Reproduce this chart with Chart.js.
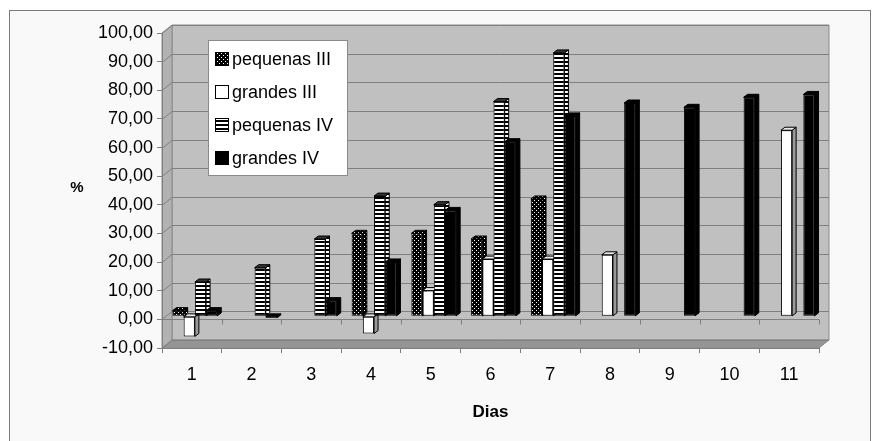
<!DOCTYPE html>
<html>
<head>
<meta charset="utf-8">
<script src="https://cdn.jsdelivr.net/npm/chart.js@4.4.1/dist/chart.umd.min.js"></script>
<style>
  html, body { margin: 0; padding: 0; background: #fff; }
  #frame { position: absolute; left: 9px; top: 10px; width: 860px; height: 440px;
           border: 1px solid #7a7a7a; background: #f9f9f9; }
  #wrap { position: absolute; left: 0; top: 0; width: 877px; height: 441px; }
</style>
</head>
<body>
<div id="frame"></div>
<div id="wrap"><canvas id="chart" width="877" height="441"></canvas></div>
<script>
// valores (%)
var dias = ['1', '2', '3', '4', '5', '6', '7', '8', '9', '10', '11'];
var pequenasIII = [2, null, null, 29, 29, 27, 41, null, null, null, null];
var grandesIII  = [-7, null, null, -6, 9, 20, 20, 21.5, null, null, 65];
var pequenasIV  = [12, 17, 27, 42, 39, 75, 92, null, null, null, null];
var grandesIV   = [2, -0.5, 5.5, 19, 37, 61, 70, 74.5, 73, 76.5, 77.5];
var yMin = -10, yMax = 100, yStep = 10;

var canvas = document.getElementById('chart');
var ctx = canvas.getContext('2d');
var FONT = 'Liberation Sans, Arial, sans-serif';

// 3d offsets
var DX = 10, DY = -8;     // wall depth
var BX = 4, BY = -3;      // bar depth

function makePattern(kind) {
  var c = document.createElement('canvas');
  c.width = 4; c.height = 4;
  var g = c.getContext('2d');
  if (kind === 'dots') {
    g.fillStyle = '#000'; g.fillRect(0, 0, 4, 4);
    g.fillStyle = '#fff'; g.fillRect(1, 1, 1, 1); g.fillRect(3, 3, 1, 1);
  } else {
    g.fillStyle = '#fff'; g.fillRect(0, 0, 4, 4);
    g.fillStyle = '#000'; g.fillRect(0, 0, 4, 2);
  }
  return ctx.createPattern(c, 'repeat');
}
var dots = makePattern('dots');
var stripes = makePattern('stripes');

var fills = [dots, '#ffffff', stripes, '#000000'];
var sides = [dots, '#9a9a9a', stripes, '#000000'];
var tops  = [dots, '#e8e8e8', '#333333', '#000000'];

function poly(c, pts, fill, stroke) {
  c.beginPath();
  c.moveTo(pts[0][0], pts[0][1]);
  for (var i = 1; i < pts.length; i++) c.lineTo(pts[i][0], pts[i][1]);
  c.closePath();
  if (fill) { c.fillStyle = fill; c.fill(); }
  if (stroke) { c.strokeStyle = stroke; c.lineWidth = 1; c.stroke(); }
}

var wallPlugin = {
  id: 'wall',
  beforeDraw: function (chart) {
    var c = chart.ctx, a = chart.chartArea, ys = chart.scales.y;
    var L = a.left, R = a.right;
    var T = ys.getPixelForValue(yMax), B = ys.getPixelForValue(yMin);
    c.save();
    poly(c, [[L + DX, T + DY], [R + DX, T + DY], [R + DX, B + DY], [L + DX, B + DY]], '#c0c0c0', '#8a8a8a');
    poly(c, [[L, T], [L + DX, T + DY], [L + DX, B + DY], [L, B]], '#b2b2b2', '#8a8a8a');
    poly(c, [[L, B], [L + DX, B + DY], [R + DX, B + DY], [R, B]], '#959595', '#8a8a8a');
    c.strokeStyle = '#808080';
    c.lineWidth = 1;
    ys.ticks.forEach(function (t) {
      var py = Math.round(ys.getPixelForValue(t.value)) + 0.5;
      c.beginPath();
      c.moveTo(L, py);
      c.lineTo(L + DX, py + DY);
      c.lineTo(R + DX, py + DY);
      c.stroke();
    });
    // linha do zero com marcas
    var z = Math.round(ys.getPixelForValue(0)) + 0.5;
    c.beginPath();
    c.moveTo(L, z); c.lineTo(R, z);
    var n = dias.length;
    for (var i = 1; i <= n; i++) {
      var px = Math.round(L + i * (R - L) / n) + 0.5;
      c.moveTo(px, z); c.lineTo(px, z + 5);
    }
    c.stroke();
    c.restore();
  },
  beforeDatasetsDraw: function (chart) {
    var c = chart.ctx;
    c.save();
    c.translate(3, -3);
    chart.data.datasets.forEach(function (ds, di) {
      var meta = chart.getDatasetMeta(di);
      meta.data.forEach(function (bar, i) {
        if (ds.data[i] === null) return;
        var p = bar.getProps(['x', 'y', 'base', 'width'], true);
        var x0 = p.x - p.width / 2, x1 = p.x + p.width / 2;
        var top = Math.min(p.y, p.base), bot = Math.max(p.y, p.base);
        poly(c, [[x1, top], [x1 + BX, top + BY], [x1 + BX, bot + BY], [x1, bot]], sides[di], '#000');
        poly(c, [[x0, top], [x0 + BX, top + BY], [x1 + BX, top + BY], [x1, top]], tops[di], '#000');
      });
    });
  },
  afterDatasetsDraw: function (chart) {
    chart.ctx.restore();
  },
  afterDraw: function (chart) {
    var c = chart.ctx;
    c.save();
    // título do eixo y
    c.fillStyle = '#000';
    c.font = 'bold 15px ' + FONT;
    c.textAlign = 'center';
    c.textBaseline = 'middle';
    c.fillText('%', 77, 188);
    // legenda
    c.fillStyle = '#ffffff';
    c.fillRect(208.5, 40.5, 139, 135);
    c.strokeStyle = '#8a8a8a';
    c.lineWidth = 1;
    c.strokeRect(208.5, 40.5, 139, 135);
    c.font = '18px ' + FONT;
    c.textAlign = 'left';
    chart.data.datasets.forEach(function (ds, di) {
      var cy = 59 + di * 33;
      c.fillStyle = fills[di];
      c.fillRect(215, cy - 7, 14, 14);
      c.strokeStyle = '#000';
      c.strokeRect(215.5, cy - 6.5, 13, 13);
      c.fillStyle = '#000';
      c.fillText(ds.label, 232, cy + 1);
    });
    c.restore();
  }
};

function series(label, data, di) {
  return {
    label: label,
    data: data,
    backgroundColor: fills[di],
    borderColor: '#000000',
    borderWidth: 1,
    borderSkipped: false,
    categoryPercentage: 0.75,
    barPercentage: 1.0
  };
}

new Chart(ctx, {
  type: 'bar',
  data: {
    labels: dias,
    datasets: [
      series('pequenas III', pequenasIII, 0),
      series('grandes III', grandesIII, 1),
      series('pequenas IV', pequenasIV, 2),
      series('grandes IV', grandesIV, 3)
    ]
  },
  options: {
    responsive: false,
    animation: false,
    layout: { padding: { left: 0, right: 58, top: 33, bottom: 14 } },
    plugins: {
      legend: { display: false },
      tooltip: { enabled: false }
    },
    scales: {
      x: {
        grid: { drawOnChartArea: false, tickLength: 5, color: '#808080' },
        border: { color: '#808080' },
        ticks: { color: '#000', font: { family: FONT, size: 18 }, padding: 11 },
        title: { display: true, text: 'Dias', color: '#000',
                 font: { family: FONT, size: 17, weight: 'bold' }, padding: { top: 6, bottom: 4 } }
      },
      y: {
        min: yMin, max: yMax,
        afterFit: function (scale) { scale.width = 162; },
        grid: { drawOnChartArea: false, tickLength: 5, color: '#808080' },
        border: { color: '#808080' },
        ticks: {
          stepSize: yStep, color: '#000', padding: 4,
          font: { family: FONT, size: 18 },
          callback: function (v) { return v.toFixed(2).replace('.', ','); }
        }
      }
    }
  },
  plugins: [wallPlugin]
});
</script>
</body>
</html>
